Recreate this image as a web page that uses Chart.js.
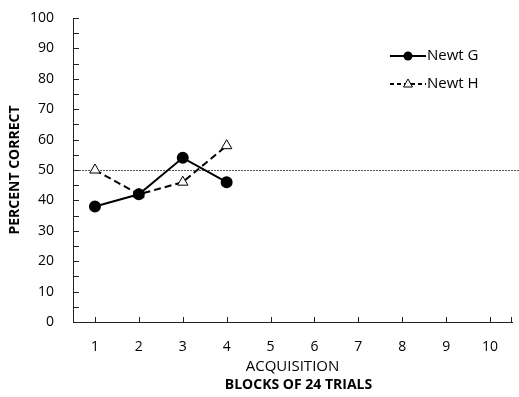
<!DOCTYPE html>
<html lang="en">
<head>
    <meta charset="UTF-8">
    <title>Percent Correct by Block</title>
    <script src="https://cdn.jsdelivr.net/npm/chart.js"></script>
    <style>
        html, body { margin: 0; padding: 0; background: #fff; }
        #wrap { width: 519px; height: 397px; }
    </style>
</head>
<body>
    <div id="wrap"><canvas id="newtChart" width="519" height="397"></canvas></div>

    <script>
        // chart data
        const blocks = ['1', '2', '3', '4', '5', '6', '7', '8', '9', '10'];
        const newtG = [38, 42, 54, 46];
        const newtH = [50, 42, 46, 58];
        const chanceLevel = 50;

        const FONT = '"Open Sans", "Liberation Sans", sans-serif';

        // inside tick marks, chance line, legend and the second x title
        const extras = {
            id: 'extras',
            beforeDatasetsDraw(chart) {
                const ctx = chart.ctx;
                const area = chart.chartArea;
                const y = chart.scales.y;
                const x = chart.scales.x;
                ctx.save();
                // chance line at 50
                ctx.strokeStyle = '#555';
                ctx.lineWidth = 1;
                ctx.setLineDash([2, 1]);
                const yc = Math.round(y.getPixelForValue(chanceLevel)) + 0.5;
                ctx.beginPath();
                ctx.moveTo(area.left, yc);
                ctx.lineTo(chart.width, yc);
                ctx.stroke();
                ctx.setLineDash([]);
                // y ticks (every 5, inside)
                ctx.strokeStyle = '#222';
                for (let v = 0; v <= 100; v += 5) {
                    const py = Math.round(y.getPixelForValue(v)) + 0.5;
                    ctx.beginPath();
                    ctx.moveTo(area.left, py);
                    ctx.lineTo(area.left + 6, py);
                    ctx.stroke();
                }
                // x ticks at category centres
                blocks.forEach((b, i) => {
                    const px = Math.round(x.getPixelForValue(i)) + 0.5;
                    ctx.beginPath();
                    ctx.moveTo(px, area.bottom);
                    ctx.lineTo(px, area.bottom - 5);
                    ctx.stroke();
                });
                ctx.beginPath();
                ctx.moveTo(area.right - 0.5, area.bottom);
                ctx.lineTo(area.right - 0.5, area.bottom - 5);
                ctx.stroke();
                ctx.restore();
            },
            afterDraw(chart) {
                const ctx = chart.ctx;
                const area = chart.chartArea;
                ctx.save();
                // legend
                const items = [
                    { label: 'Newt G', y: 56, dash: [], style: 'circle' },
                    { label: 'Newt H', y: 84, dash: [4, 3], style: 'triangle' }
                ];
                items.forEach(it => {
                    ctx.strokeStyle = '#000';
                    ctx.lineWidth = 2;
                    ctx.setLineDash(it.dash);
                    ctx.beginPath();
                    ctx.moveTo(390, it.y);
                    ctx.lineTo(426, it.y);
                    ctx.stroke();
                    ctx.setLineDash([]);
                    ctx.lineWidth = 1;
                    if (it.style === 'circle') {
                        ctx.fillStyle = '#000';
                        ctx.beginPath();
                        ctx.arc(408, it.y, 4.5, 0, Math.PI * 2);
                        ctx.fill();
                    } else {
                        ctx.fillStyle = '#fff';
                        ctx.beginPath();
                        ctx.moveTo(408, it.y - 5);
                        ctx.lineTo(412.5, it.y + 3);
                        ctx.lineTo(403.5, it.y + 3);
                        ctx.closePath();
                        ctx.fill();
                        ctx.stroke();
                    }
                    ctx.fillStyle = '#000';
                    ctx.font = '15px ' + FONT;
                    ctx.textBaseline = 'middle';
                    ctx.textAlign = 'left';
                    ctx.fillText(it.label, 427, it.y);
                });
                // second x-axis title
                ctx.font = 'bold 14px ' + FONT;
                ctx.textAlign = 'center';
                ctx.textBaseline = 'middle';
                ctx.fillText('BLOCKS OF 24 TRIALS', (area.left + area.right) / 2 + 6, 385);
                ctx.restore();
            }
        };

        new Chart(document.getElementById('newtChart'), {
            type: 'line',
            data: {
                labels: blocks,
                datasets: [{
                    label: 'Newt G',
                    data: newtG,
                    borderColor: '#000',
                    backgroundColor: '#000',
                    borderWidth: 2,
                    pointStyle: 'circle',
                    pointRadius: 5,
                    pointHoverRadius: 5,
                    tension: 0
                }, {
                    label: 'Newt H',
                    data: newtH,
                    borderColor: '#000',
                    backgroundColor: '#fff',
                    borderWidth: 2,
                    borderDash: [7, 4],
                    pointStyle: 'triangle',
                    pointRadius: 6,
                    pointHoverRadius: 6,
                    pointBorderWidth: 1,
                    tension: 0
                }]
            },
            options: {
                responsive: false,
                animation: false,
                layout: { padding: { top: 18, right: 4, left: 0, bottom: 21 } },
                plugins: {
                    legend: { display: false },
                    tooltip: { enabled: false }
                },
                scales: {
                    x: {
                        offset: true,
                        grid: { display: false, drawTicks: false },
                        border: { display: true, color: '#222', width: 1 },
                        ticks: { color: '#000', font: { family: FONT, size: 14 }, padding: 17, maxRotation: 0 },
                        title: {
                            display: true,
                            text: 'ACQUISITION',
                            color: '#000',
                            font: { family: FONT, size: 15 },
                            padding: { top: 0, bottom: 0 }
                        },
                        afterFit(scale) { scale.height = 54; }
                    },
                    y: {
                        min: 0,
                        max: 100,
                        grid: { display: false, drawTicks: false },
                        border: { display: true, color: '#222', width: 1 },
                        ticks: { stepSize: 10, color: '#000', font: { family: FONT, size: 14 }, padding: 19 },
                        title: {
                            display: true,
                            text: 'PERCENT CORRECT',
                            color: '#000',
                            font: { family: FONT, size: 14, weight: 'bold' },
                            padding: { top: 7, bottom: 0 }
                        },
                        afterFit(scale) {
                            scale.width = 73;
                            scale.paddingTop = 0;
                            scale.paddingBottom = 0;
                        }
                    }
                }
            },
            plugins: [extras]
        });
    </script>
</body>
</html>
